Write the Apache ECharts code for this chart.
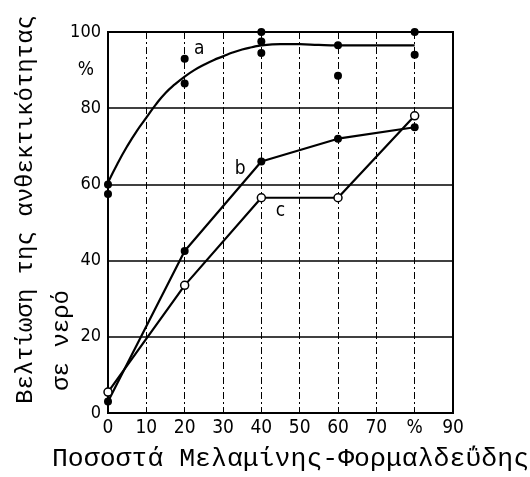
<!DOCTYPE html>
<html>
<head>
<meta charset="utf-8">
<script src="https://cdn.jsdelivr.net/npm/echarts@6/dist/echarts.min.js"></script>
<style>html,body{margin:0;padding:0;background:#fff;}#c{width:530px;height:477px;}</style>
</head>
<body>
<div id="c"></div>
<script>
// ---- data ----
const xTicks = [0, 10, 20, 30, 40, 50, 60, 70, 80, 90];
const yTicks = [0, 20, 40, 60, 80, 100];
const curveA = [[0, 60.5], [2.5, 65.5], [5, 70], [7.5, 74], [10, 77.5], [12.5, 81], [15, 84], [17.5, 86.3], [20, 88.3],
  [22.5, 90], [25, 91.4], [27.5, 92.6], [30, 93.6], [32.5, 94.6], [35, 95.4], [37.5, 96], [40, 96.5],
  [45, 96.8], [50, 96.8], [55, 96.6], [60, 96.5], [70, 96.5], [80, 96.5]];
const dotsA = [[0, 60], [0, 57.5], [20, 93], [20, 86.5], [40, 100], [40, 97.5], [40, 94.5], [60, 96.5], [60, 88.5], [80, 100], [80, 94]];
const lineB = [[0, 3], [20, 42.5], [40, 66], [60, 72], [80, 75]];
const lineC = [[0, 5.5], [20, 33.5], [40, 56.5], [60, 56.5], [80, 78]];
const labelA = [23.8, 95.6], labelB = [34.5, 64], labelC = [45, 53];
const yTitle = 'Βελτίωση της ανθεκτικότητας';
const yTitle2 = 'σε νερό';
const xTitle = 'Ποσοστά Μελαμίνης-Φορμαλδεΰδης';

const mono = '"Liberation Mono", "DejaVu Sans Mono", monospace';
const narrow = '"Liberation Sans Narrow", "DejaVu Sans Condensed", "Liberation Sans", sans-serif';

function mp(coord, txt) {
  return {
    symbol: 'circle', symbolSize: 1, silent: true,
    itemStyle: {color: 'rgba(0,0,0,0)'},
    label: {show: true, position: 'inside', color: '#000', fontFamily: narrow, fontSize: 19, formatter: txt},
    data: [{coord: coord}]
  };
}

const chart = echarts.init(document.getElementById('c'), null, {renderer: 'canvas'});
chart.setOption({
  backgroundColor: '#fff',
  animation: false,
  grid: {left: 108, right: 77, top: 32, bottom: 64, show: true, borderColor: '#000', borderWidth: 2,
    containLabel: false, outerBoundsMode: 'none'},
  xAxis: {
    type: 'value', min: 0, max: 90, interval: 10,
    axisLine: {show: true, lineStyle: {color: '#000', width: 2}},
    axisTick: {show: false},
    axisLabel: {color: '#000', fontFamily: narrow, fontSize: 19, margin: 6,
      formatter: v => v === 80 ? '%' : String(v)},
    splitLine: {show: true, lineStyle: {color: '#000', width: 1, type: [7, 3, 2, 3]}},
    name: xTitle, nameLocation: 'middle', nameGap: 32,
    nameTextStyle: {color: '#000', fontFamily: mono, fontSize: 26.5, padding: [0, 0, 0, 20]}
  },
  yAxis: [{
    type: 'value', min: 0, max: 100, interval: 20,
    axisLine: {show: true, lineStyle: {color: '#000', width: 2}},
    axisTick: {show: false},
    axisLabel: {color: '#000', fontFamily: narrow, fontSize: 18, margin: 7},
    splitLine: {show: true, lineStyle: {color: '#000', width: 1.5}},
    name: yTitle, nameLocation: 'middle', nameGap: 70, nameRotate: 90,
    nameTextStyle: {color: '#000', fontFamily: mono, fontSize: 24, padding: [0, 0, 0, 26]}
  }, {
    type: 'value', min: 0, max: 100, interval: 10, position: 'left',
    axisLine: {show: false}, axisTick: {show: false}, splitLine: {show: false},
    axisLabel: {color: '#000', fontFamily: narrow, fontSize: 19, margin: 14,
      formatter: v => v === 90 ? '%' : ''}
  }],
  graphic: [{
    type: 'text', left: 50, top: 290, rotation: Math.PI / 2, silent: true,
    style: {text: yTitle2, fill: '#000', font: '24px ' + mono}
  }],
  series: [{
    type: 'line', data: curveA, smooth: true, showSymbol: false,
    lineStyle: {color: '#000', width: 2.2}, markPoint: mp(labelA, 'a')
  }, {
    type: 'scatter', data: dotsA, symbol: 'circle', symbolSize: 8,
    itemStyle: {color: '#000', opacity: 1}
  }, {
    type: 'line', data: lineB, symbol: 'circle', symbolSize: 8, showSymbol: true,
    lineStyle: {color: '#000', width: 2.2}, itemStyle: {color: '#000', opacity: 1},
    markPoint: mp(labelB, 'b')
  }, {
    type: 'line', data: lineC, symbol: 'circle', symbolSize: 8, showSymbol: true,
    lineStyle: {color: '#000', width: 2.2},
    itemStyle: {color: '#fff', borderColor: '#000', borderWidth: 1.5, opacity: 1},
    markPoint: mp(labelC, 'c')
  }]
});
</script>
</body>
</html>
